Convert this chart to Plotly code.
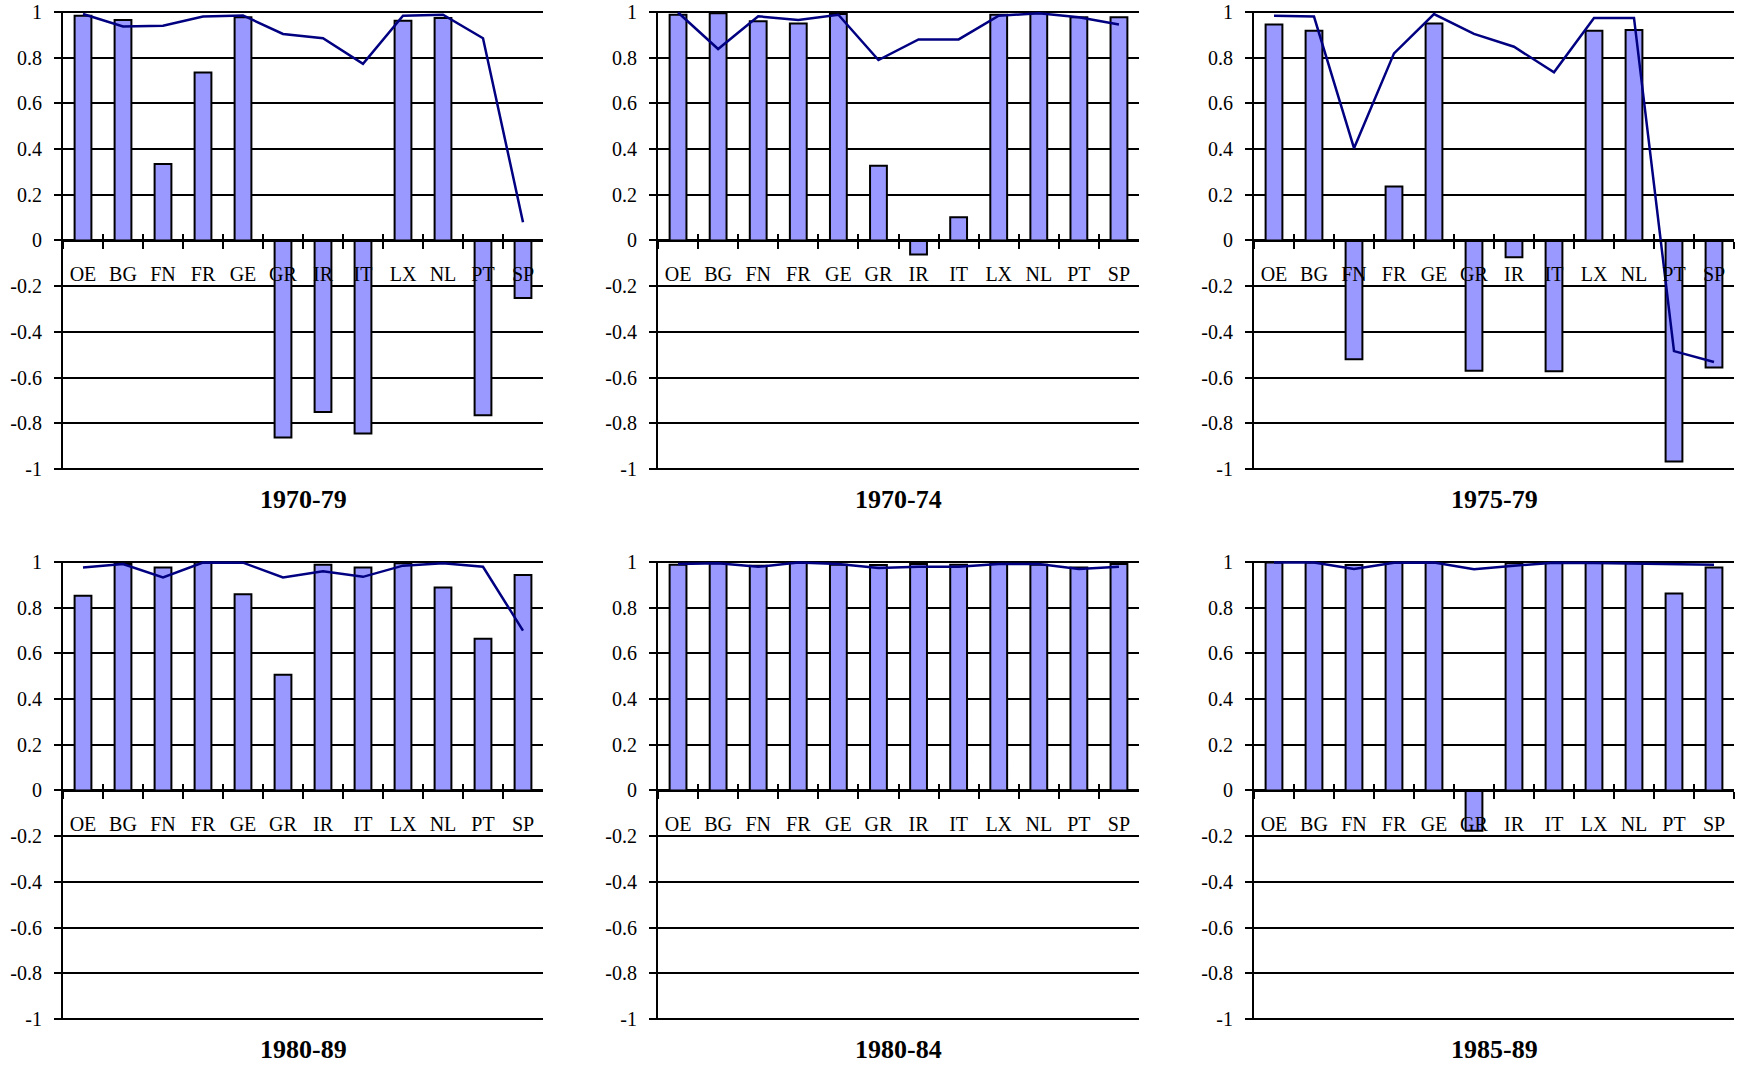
import plotly.graph_objects as go

countries = ["OE", "BG", "FN", "FR", "GE", "GR", "IR", "IT", "LX", "NL", "PT", "SP"]
periods = ["1970-79", "1970-74", "1975-79", "1980-89", "1980-84", "1985-89"]

bars_1970_79 = [0.984, 0.965, 0.335, 0.735, 0.977, -0.862, -0.750, -0.845, 0.962, 0.974, -0.765, -0.252]
line_1970_79 = [0.991, 0.937, 0.940, 0.980, 0.985, 0.904, 0.885, 0.773, 0.984, 0.988, 0.885, 0.080]

bars_1970_74 = [0.988, 0.995, 0.959, 0.950, 0.991, 0.327, -0.061, 0.102, 0.988, 0.994, 0.977, 0.977]
line_1970_74 = [0.998, 0.838, 0.981, 0.965, 0.988, 0.790, 0.880, 0.880, 0.984, 0.994, 0.977, 0.945]

bars_1975_79 = [0.945, 0.918, -0.520, 0.236, 0.950, -0.570, -0.073, -0.572, 0.918, 0.921, -0.967, -0.556]
line_1975_79 = [0.984, 0.980, 0.404, 0.819, 0.991, 0.904, 0.848, 0.736, 0.974, 0.974, -0.484, -0.532]

bars_1980_89 = [0.852, 0.991, 0.976, 0.998, 0.859, 0.507, 0.988, 0.976, 0.994, 0.888, 0.664, 0.943]
line_1980_89 = [0.976, 0.991, 0.932, 0.998, 0.997, 0.932, 0.959, 0.935, 0.984, 0.994, 0.979, 0.700]

bars_1980_84 = [0.988, 0.994, 0.984, 0.998, 0.988, 0.987, 0.991, 0.988, 0.994, 0.988, 0.976, 0.991]
line_1980_84 = [0.991, 0.994, 0.979, 0.998, 0.991, 0.974, 0.979, 0.979, 0.991, 0.991, 0.969, 0.979]

bars_1985_89 = [0.998, 0.998, 0.987, 0.998, 0.998, -0.176, 0.994, 0.998, 0.997, 0.996, 0.862, 0.976]
line_1985_89 = [0.998, 0.998, 0.969, 0.997, 0.998, 0.968, 0.984, 0.997, 0.996, 0.994, 0.991, 0.988]

y_tick_vals = [1, 0.8, 0.6, 0.4, 0.2, 0, -0.2, -0.4, -0.6, -0.8, -1]
y_tick_text = ["1", "0.8", "0.6", "0.4", "0.2", "0", "-0.2", "-0.4", "-0.6", "-0.8", "-1"]

all_bars = [bars_1970_79, bars_1970_74, bars_1975_79, bars_1980_89, bars_1980_84, bars_1985_89]
all_lines = [line_1970_79, line_1970_74, line_1975_79, line_1980_89, line_1980_84, line_1985_89]

W, H = 1738, 1067
col_px = [(63, 543), (658, 1139), (1254, 1734)]
row_px = [(12, 469), (562, 1019)]
title_px_y = [499, 1049]
EPS = 0.006  # small range padding so the gridlines at +-1 are drawn

BAR_COLOR = "#9999FF"
LINE_COLOR = "#000080"
FONT = "Liberation Serif"

fig = go.Figure()
layout = dict(
    width=W, height=H,
    margin=dict(l=0, r=0, t=0, b=0, autoexpand=False),
    paper_bgcolor="white", plot_bgcolor="white",
    showlegend=False,
    font=dict(family=FONT, size=20, color="black"),
    annotations=[],
)

for i in range(6):
    r, c = divmod(i, 3)
    n = i + 1
    xs = "" if n == 1 else str(n)
    xd = str(n + 6)  # duplicate axis used for the upward half of the cross ticks
    x0, x1 = col_px[c]
    ytop, ybot = row_px[r]
    unit = (ybot - ytop) / 2.0
    pad = EPS * unit
    xdom = [x0 / W, x1 / W]
    ydom = [1 - (ybot + pad) / H, 1 - (ytop - pad) / H]
    zero_pos = (ydom[0] + ydom[1]) / 2

    fig.add_trace(go.Bar(
        x=countries, y=all_bars[i], xaxis="x" + xs, yaxis="y" + xs,
        marker=dict(color=BAR_COLOR, line=dict(color="black", width=2)),
        width=0.42,
    ))
    fig.add_trace(go.Scatter(
        x=countries, y=all_lines[i], xaxis="x" + xs, yaxis="y" + xs,
        mode="lines", line=dict(color=LINE_COLOR, width=2.5),
    ))
    fig.add_trace(go.Scatter(
        x=countries, y=[None] * len(countries), xaxis="x" + xd, yaxis="y" + xs,
        mode="lines", hoverinfo="skip",
    ))

    common_x = dict(
        domain=xdom, anchor="free", position=zero_pos,
        type="category", categoryorder="array", categoryarray=countries,
        range=[-0.5, 11.5], tickson="boundaries",
        tickwidth=2, tickcolor="black", showgrid=False,
    )
    layout["xaxis" + xs] = dict(
        **common_x,
        showline=True, linecolor="black", linewidth=2,
        ticks="outside", ticklen=7,
        tickfont=dict(family=FONT, size=20, color="black"),
        ticklabelstandoff=15,
    )
    layout["xaxis" + xd] = dict(
        **common_x, overlaying="x" + xs,
        showline=False, ticks="inside", ticklen=7, showticklabels=False,
    )
    layout["yaxis" + xs] = dict(
        domain=ydom, anchor="x" + xs,
        range=[-1 - EPS, 1 + EPS], tickvals=y_tick_vals, ticktext=y_tick_text,
        showline=True, linecolor="black", linewidth=2,
        ticks="outside", ticklen=7, tickwidth=2, tickcolor="black",
        showgrid=True, gridcolor="black", gridwidth=2,
        zeroline=False, ticklabeloverflow="allow", ticklabelstandoff=8,
        tickfont=dict(family=FONT, size=20, color="black"),
    )
    layout["annotations"].append(dict(
        text="<b>" + periods[i] + "</b>", xref="paper", yref="paper",
        x=(xdom[0] + xdom[1]) / 2, y=1 - title_px_y[r] / H,
        xanchor="center", yanchor="middle", showarrow=False,
        font=dict(family=FONT, size=26, color="black"),
    ))

fig.update_layout(**layout)
fig.write_html(
    "out.html",
    config={"displayModeBar": False},
    post_script="document.body.style.margin='0';",
)
